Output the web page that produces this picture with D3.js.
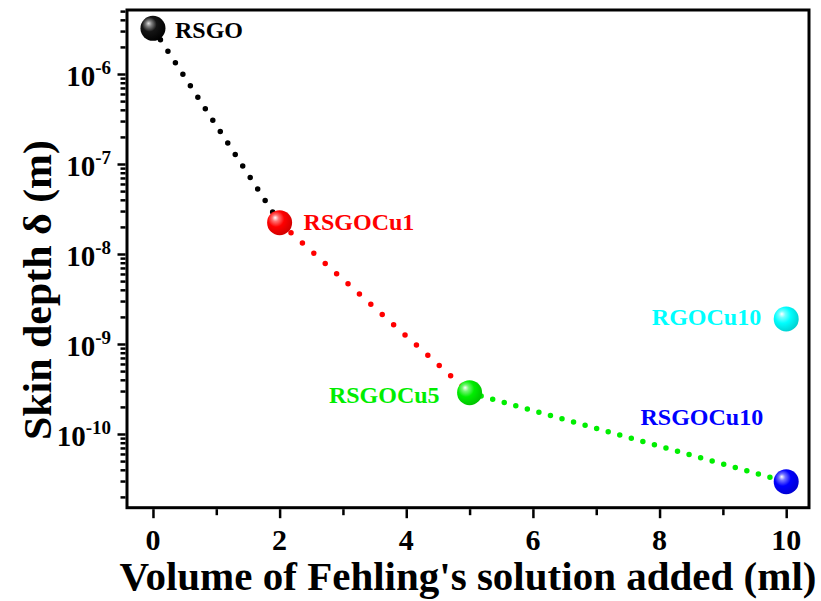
<!DOCTYPE html>
<html>
<head>
<meta charset="utf-8">
<script src="https://cdn.jsdelivr.net/npm/d3@7"></script>
<style>
  html, body { margin: 0; padding: 0; background: #fff; }
  svg { display: block; }
  text { font-family: "Liberation Serif", "Times New Roman", serif; font-weight: bold; }
</style>
</head>
<body>
<svg id="chart" width="821" height="601"></svg>
<script>
// ---- data ----
const categories = ["RSGO", "RSGOCu1", "RSGOCu5", "RSGOCu10", "RGOCu10"];
const volumes = [0, 2, 5, 10, 10];
const skinDepth = [3.22e-6, 2.23e-8, 2.88e-10, 2.95e-11, 1.9e-9];
const colors = ["#000000", "#ff0000", "#00ee00", "#0000ff", "#00ffff"];
const connected = [0, 1, 2, 3];               // indices joined by dotted line
const segmentColors = ["#000000", "#ff0000", "#00ee00"];
const segmentSpacing = [13.7, 15.3, 12];
const xTicks = [0, 2, 4, 6, 8, 10];
const xMinorTicks = [1, 3, 5, 7, 9];
const yTickExponents = [-10, -9, -8, -7, -6];
const xTitle = "Volume of Fehling's solution added (ml)";
const yTitle = "Skin depth δ (m)";

// ---- layout ----
const L = 127, R = 809, T = 10, B = 507.7;
const svg = d3.select("#chart");

const x = d3.scaleLinear().domain([-0.41, 10.36]).range([L, R]);
const y = d3.scaleLog().domain([1.517e-11, 5.143e-6]).range([B, T]);

// minor y ticks
const yMinor = [];
for (let e = -12; e <= -5; e++) {
  for (let m = 2; m <= 9; m++) {
    const v = m * Math.pow(10, e);
    if (v >= y.domain()[0] && v <= y.domain()[1]) yMinor.push(v);
  }
}
const yMajor = yTickExponents.map(e => Math.pow(10, e));

// ---- gradients ----
const defs = svg.append("defs");
function shade(c, k) { return d3.color(c).darker(k).formatHex(); }
categories.forEach((c, i) => {
  const base = colors[i];
  const g = defs.append("radialGradient").attr("id", "g" + i)
    .attr("cx", "40%").attr("cy", "40%").attr("r", "65%")
    .attr("fx", "32%").attr("fy", "30%");
  if (i === 0) {
    g.append("stop").attr("offset", "0%").attr("stop-color", "#e0e0e0");
    g.append("stop").attr("offset", "18%").attr("stop-color", "#808080");
    g.append("stop").attr("offset", "45%").attr("stop-color", "#151515");
    g.append("stop").attr("offset", "100%").attr("stop-color", "#000000");
  } else {
    g.append("stop").attr("offset", "0%").attr("stop-color", "#ffffff");
    g.append("stop").attr("offset", "20%").attr("stop-color", d3.interpolateRgb("#ffffff", base)(0.55));
    g.append("stop").attr("offset", "50%").attr("stop-color", base);
    g.append("stop").attr("offset", "100%").attr("stop-color", shade(base, 0.6));
  }
});

// ---- axes ----
const axisG = svg.append("g");
axisG.append("rect").attr("x", L).attr("y", T).attr("width", R - L).attr("height", B - T)
  .attr("fill", "none").attr("stroke", "#000").attr("stroke-width", 3);

const xMajorAxis = d3.axisBottom(x).tickValues(xTicks).tickSize(9).tickFormat("");
const xMinorAxis = d3.axisBottom(x).tickValues(xMinorTicks).tickSize(6).tickFormat("");
const yMajorAxis = d3.axisLeft(y).tickValues(yMajor).tickSize(8).tickFormat("");
const yMinorAxis = d3.axisLeft(y).tickValues(yMinor).tickSize(5).tickFormat("");

function styleAxis(g) {
  g.select(".domain").remove();
  g.selectAll(".tick line").attr("stroke", "#000").attr("stroke-width", 2.5);
}
axisG.append("g").attr("transform", `translate(0,${B + 1.5})`).call(xMajorAxis).call(styleAxis);
axisG.append("g").attr("transform", `translate(0,${B + 1.5})`).call(xMinorAxis).call(styleAxis);
axisG.append("g").attr("transform", `translate(${L - 1.5},0)`).call(yMajorAxis).call(styleAxis);
axisG.append("g").attr("transform", `translate(${L - 1.5},0)`).call(yMinorAxis).call(styleAxis);

// x tick labels
axisG.selectAll(".xlab").data(xTicks).enter().append("text")
  .attr("x", d => x(d)).attr("y", 550)
  .attr("text-anchor", "middle").attr("font-size", 30).attr("fill", "#000")
  .text(d => d);

// y tick labels: 10^e
yTickExponents.forEach(e => {
  const t = axisG.append("text")
    .attr("x", 111).attr("y", y(Math.pow(10, e)) + 12)
    .attr("text-anchor", "end").attr("fill", "#000").attr("font-size", 29);
  t.append("tspan").text("10");
  t.append("tspan").attr("font-size", 19).attr("dy", -12).text("-" + Math.abs(e));
});

// titles, scaled horizontally to the measured extent of the reference
function fitTitle(txt, cx, cy, rot, targetLen, size) {
  const g = svg.append("g").attr("transform", `translate(${cx},${cy}) rotate(${rot})`);
  const t = g.append("text").attr("text-anchor", "middle")
    .attr("font-size", size).attr("fill", "#000").text(txt);
  const w = t.node().getComputedTextLength();
  t.attr("transform", `scale(${targetLen / w},1)`);
}
fitTitle(xTitle, 468, 590, 0, 697, 39);
fitTitle(yTitle, 51, 290, -90, 300, 39);

// ---- dotted lines ----
const line = d3.line().x(d => x(volumes[d])).y(d => y(skinDepth[d]));
for (let s = 0; s < connected.length - 1; s++) {
  svg.append("path")
    .attr("d", line([connected[s], connected[s + 1]]))
    .attr("fill", "none").attr("stroke", segmentColors[s])
    .attr("stroke-width", 5.5).attr("stroke-linecap", "round")
    .attr("stroke-dasharray", `0 ${segmentSpacing[s]}`);
}

// ---- markers ----
svg.selectAll(".pt").data(categories).enter().append("circle")
  .attr("cx", (d, i) => x(volumes[i])).attr("cy", (d, i) => y(skinDepth[i]))
  .attr("r", 12.5).attr("fill", (d, i) => `url(#g${i})`);

// ---- labels ----
const labelPos = [
  { dx: 22, dy: 10, anchor: "start" },
  { dx: 24, dy: 7, anchor: "start" },
  { dx: -30, dy: 10, anchor: "end" },
  { dx: -23, dy: -57, anchor: "end" },
  { dx: -25, dy: 6, anchor: "end" }
];
svg.selectAll(".lab").data(categories).enter().append("text")
  .attr("x", (d, i) => x(volumes[i]) + labelPos[i].dx)
  .attr("y", (d, i) => y(skinDepth[i]) + labelPos[i].dy)
  .attr("text-anchor", (d, i) => labelPos[i].anchor)
  .attr("font-size", 24)
  .attr("fill", (d, i) => colors[i])
  .text(d => d);
</script>
</body>
</html>
